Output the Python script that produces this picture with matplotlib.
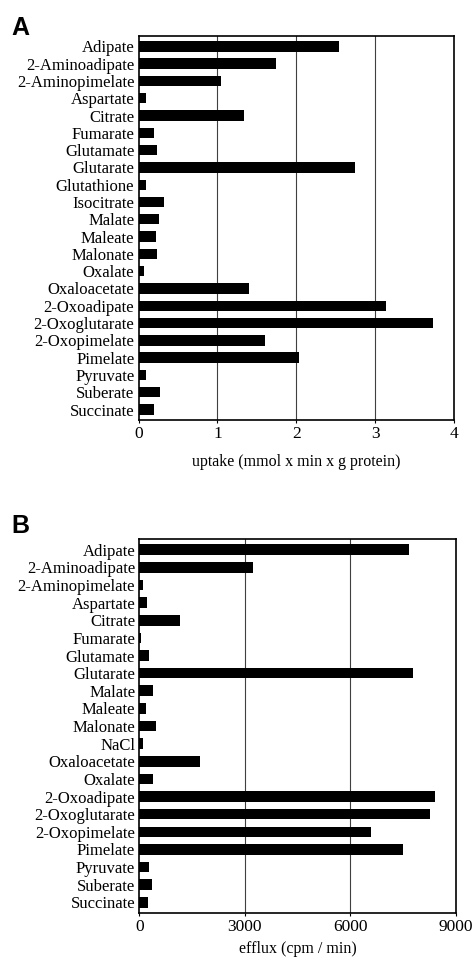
import matplotlib.pyplot as plt

# panel A: uptake
names_a = ['Adipate', '2-Aminoadipate', '2-Aminopimelate', 'Aspartate', 'Citrate',
           'Fumarate', 'Glutamate', 'Glutarate', 'Glutathione', 'Isocitrate',
           'Malate', 'Maleate', 'Malonate', 'Oxalate', 'Oxaloacetate',
           '2-Oxoadipate', '2-Oxoglutarate', '2-Oxopimelate', 'Pimelate',
           'Pyruvate', 'Suberate', 'Succinate']
uptake = [2.54, 1.75, 1.05, 0.10, 1.34, 0.20, 0.24, 2.74, 0.09, 0.32,
          0.26, 0.22, 0.23, 0.07, 1.40, 3.14, 3.74, 1.61, 2.04,
          0.09, 0.27, 0.20]

# panel B: efflux
names_b = ['Adipate', '2-Aminoadipate', '2-Aminopimelate', 'Aspartate', 'Citrate',
           'Fumarate', 'Glutamate', 'Glutarate', 'Malate', 'Maleate',
           'Malonate', 'NaCl', 'Oxaloacetate', 'Oxalate', '2-Oxoadipate',
           '2-Oxoglutarate', '2-Oxopimelate', 'Pimelate', 'Pyruvate',
           'Suberate', 'Succinate']
efflux = [7670, 3220, 105, 220, 1165, 50, 265, 7780, 400, 190,
          465, 105, 1715, 390, 8410, 8250, 6590, 7485, 285,
          360, 255]

plt.rcParams['font.family'] = ['Liberation Serif', 'DejaVu Serif']

fig = plt.figure(figsize=(4.75, 9.61), dpi=100)

def panel(rect, names, vals, xmax, ticks, xlabel, letter, dy, lpad):
    ax = fig.add_axes(rect)
    y = list(range(len(names)))
    ax.barh(y, vals, height=0.6, color='black')
    for t in ticks[1:-1]:
        ax.axvline(t, color='0.25', lw=0.8, zorder=0)
    ax.set_xlim(0, xmax)
    ax.set_ylim(len(names) - 0.4, -0.6)
    ax.set_yticks(y)
    ax.set_yticklabels(names, fontsize=12)
    ax.set_xticks(ticks)
    ax.set_xticklabels([str(t) for t in ticks], fontsize=12.5)
    ax.tick_params(axis='y', length=0, pad=3)
    ax.tick_params(axis='x', length=2, pad=2)
    ax.set_xlabel(xlabel, fontsize=11.5, labelpad=lpad)
    for s in ax.spines.values():
        s.set_linewidth(1.2)
    fig.text(0.024, rect[1] + rect[3] + dy, letter, fontsize=18,
             fontweight='bold', family='Liberation Sans', va='baseline')
    return ax

panel([0.2916, 0.563, 0.664, 0.3996], names_a, uptake, 4, [0, 1, 2, 3, 4],
      'uptake (mmol x min x g protein)', 'A', 0.001, 9)
panel([0.2933, 0.050, 0.6667, 0.389], names_b, efflux, 9000, [0, 3000, 6000, 9000],
      'efflux (cpm / min)', 'B', 0.0064, 5)

plt.savefig('out.png', dpi=100)
